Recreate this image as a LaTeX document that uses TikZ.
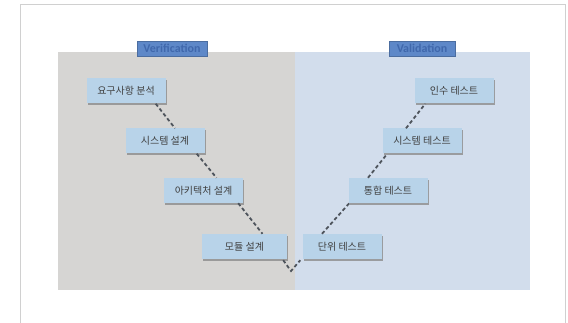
\documentclass[tikz,border=0pt]{standalone}
\usepackage{fontspec}
\setmainfont{Carlito}
\newfontfamily\krfont{Noto Sans CJK KR}
\usetikzlibrary{positioning,shadows}
\definecolor{cFrame}{HTML}{D0D0D0}
\definecolor{cGrey}{HTML}{D6D5D3}
\definecolor{cPale}{HTML}{D2DDEC}
\definecolor{cBox}{HTML}{B8D3E9}
\definecolor{cTag}{HTML}{5E88C8}
\definecolor{cTagText}{HTML}{4068AC}
\definecolor{cInk}{HTML}{404040}
\definecolor{cDash}{HTML}{4E545C}

\begin{document}
\begin{tikzpicture}[x=1pt,y=-1pt,
      stage/.style={fill=cBox,minimum width=79pt,minimum height=25pt,inner sep=0pt,
        text=cInk,font=\krfont\fontsize{10}{11}\selectfont,
        drop shadow={shadow xshift=1pt,shadow yshift=-1.6pt,fill=black!45,opacity=0.8}},
      tag/.style={fill=cTag,draw=cTag!80!black,line width=0.4pt,minimum height=15pt,
        inner xsep=3pt,inner ysep=0pt,text=cTagText,font=\fontsize{12}{12}\selectfont\bfseries},
      link/.style={cDash,line width=1.8pt,dash pattern=on 3.6pt off 2.6pt}]
    \useasboundingbox (0,0) rectangle (568,323);
    % frame and the two halves
    \draw[cFrame,line width=1pt] (20,340) -- (20,5) -- (565,5) -- (565,340);
    \fill[cGrey] (58,52) rectangle (295,290);
    \fill[cPale] (295,52) rectangle (530,290);
    \node[tag,minimum width=70pt] (ver) at (172,48.5) {Verification};
    \node[tag,minimum width=66pt] (val) at (422,48.5) {Validation};
    % left leg
    \node[stage] (req)  at (126,91)  {요구사항 분석};
    \node[stage] (sysd) at (165,141) {시스템 설계};
    \node[stage] (arch) at (203.5,190.5) {아키텍처 설계};
    \node[stage,minimum width=85pt] (mod) at (244.5,246.5) {모듈 설계};
    % right leg
    \node[stage] (unit) at (342,246.5) {단위 테스트};
    \node[stage] (intg) at (388,190.5) {통합 테스트};
    \node[stage] (syst) at (422,141) {시스템 테스트};
    \node[stage] (acpt) at (454,91)  {인수 테스트};
    \coordinate (bottom) at (291,271);
    \draw[link] ([xshift=-10pt]req.south east) -- ([xshift=10pt]sysd.north);
    \draw[link] ([xshift=-8pt]sysd.south east) -- ([xshift=13pt]arch.north);
    \draw[link] ([xshift=-5pt]arch.south east) -- ([xshift=18pt]mod.north);
    \draw[link] ([xshift=-4pt,yshift=-1pt]mod.south east) -- (bottom)
      -- ([xshift=-2pt,yshift=-1pt]unit.south west);
    \draw[link] ([xshift=-20pt]unit.north) -- ([xshift=1pt]intg.south west);
    \draw[link] ([xshift=-20pt]intg.north) -- ([xshift=5pt]syst.south west);
    \draw[link] ([xshift=-16pt]syst.north) -- ([xshift=11pt]acpt.south west);
  \end{tikzpicture}
\end{document}
